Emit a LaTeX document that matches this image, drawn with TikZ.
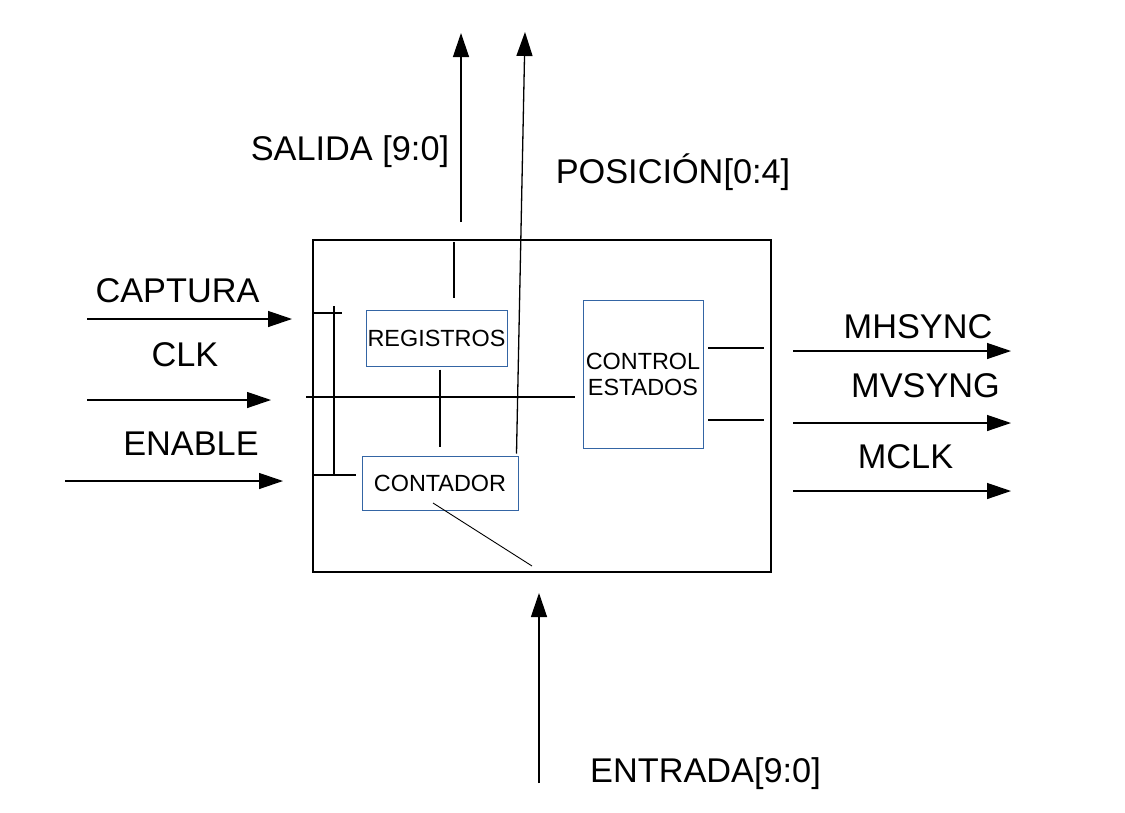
\documentclass[tikz,border=0pt]{standalone}
\usepackage{fontspec}
\setmainfont{Liberation Sans}
\usetikzlibrary{arrows.meta, positioning, calc}
\definecolor{boxblue}{HTML}{3465A4}

\begin{document}
\begin{tikzpicture}[x=1pt, y=-1pt]
    \tikzstyle{sistema} = [rectangle, draw=black, line width=1.3pt, inner sep=0pt]
    \tikzstyle{bloque} = [rectangle, draw=boxblue, line width=1pt, inner sep=0pt, align=center, font=\fontsize{23.4}{26}\selectfont]
    \tikzstyle{senal} = [anchor=base, inner sep=0pt, font=\fontsize{34.3}{40}\selectfont]
    \tikzstyle{arrow} = [line width=1.3pt, -{Triangle[length=24pt, width=16pt]}]
    \tikzstyle{wire} = [line width=1.2pt]
    \useasboundingbox (0,0) rectangle (1125,812);
    % bloques
    \node (sistema) [sistema, minimum width=458pt, minimum height=332pt] at (542,406) {};
    \node (registros) [bloque, minimum width=141pt, minimum height=56pt] at (436.5,338) {REGISTROS};
    \node (contador) [bloque, minimum width=156pt, minimum height=54pt] at (440,483) {CONTADOR};
    \node (control) [bloque, minimum width=120pt, minimum height=148pt] at (643,374) {CONTROL\\ ESTADOS};
    % etiquetas
    \node (lblcaptura) [senal] at (177.5,302) {CAPTURA};
    \node (lblclk) [senal] at (185,366) {CLK};
    \node (lblenable) [senal] at (191,455) {ENABLE};
    \node (lblsalida) [senal] at (350,160) {SALIDA [9:0]};
    \node (lblposicion) [senal] at (673,183) {POSICIÓN[0:4]};
    \node (lblmhsync) [senal] at (918,338) {MHSYNC};
    \node (lblmvsyng) [senal] at (925.5,397) {MVSYNG};
    \node (lblmclk) [senal] at (905.5,468) {MCLK};
    \node (lblentrada) [senal] at (705.5,782) {ENTRADA[9:0]};
    % extremos libres
    \coordinate (capturain) at (87,319);   \coordinate (capturaout) at (292,319);
    \coordinate (clkin) at (87,400);       \coordinate (clkout) at (271,400);
    \coordinate (enablein) at (65,481);    \coordinate (enableout) at (283,481);
    \coordinate (salidain) at (461,222);   \coordinate (salidaout) at (461,33);
    \coordinate (posicionout) at (525,32);
    \coordinate (entradain) at (539,783);  \coordinate (entradaout) at (539,593);
    \coordinate (mhsyncin) at (793,351);   \coordinate (mhsyncout) at (1011,351);
    \coordinate (mvsyngin) at (793,423);   \coordinate (mvsyngout) at (1011,423);
    \coordinate (mclkin) at (793,491);     \coordinate (mclkout) at (1011,491);
    \coordinate (regtop) at (454,242);     \coordinate (regbot) at (454,298);
    \coordinate (clkbusa) at (306,397);    \coordinate (clkbusb) at (575,397);
    \coordinate (busa) at (334,306);       \coordinate (busb) at (334,475);
    \coordinate (busc) at (313,313);       \coordinate (busd) at (342,313);
    \coordinate (buse) at (313,475);       \coordinate (busf) at (356,475);
    \coordinate (ctrla) at (708,348);      \coordinate (ctrlb) at (764,348);
    \coordinate (ctrlc) at (708,420);      \coordinate (ctrld) at (764,420);
    \coordinate (diaga) at (433,503);      \coordinate (diagb) at (532,566);
    % flechas
    \draw [arrow] (capturain) -- (capturaout);
    \draw [arrow] (clkin) -- (clkout);
    \draw [arrow] (enablein) -- (enableout);
    \draw [arrow] (salidain) -- (salidaout);
    \draw [arrow] ($(contador.north east)+(-2,-2)$) -- (posicionout);
    \draw [arrow] (entradain) -- (entradaout);
    \draw [arrow] (mhsyncin) -- (mhsyncout);
    \draw [arrow] (mvsyngin) -- (mvsyngout);
    \draw [arrow] (mclkin) -- (mclkout);
    % lineas internas
    \draw [wire] (regtop) -- (regbot);
    \draw [wire] ($(registros.south)+(3.5,3)$) -- ($(contador.north)+(0,-9)$);
    \draw [wire] (clkbusa) -- (clkbusb);
    \draw [wire] (busa) -- (busb);
    \draw [wire] (busc) -- (busd);
    \draw [wire] (buse) -- (busf);
    \draw [wire] (ctrla) -- (ctrlb);
    \draw [wire] (ctrlc) -- (ctrld);
    \draw [wire, line width=0.9pt] (diaga) -- (diagb);
\end{tikzpicture}
\end{document}
